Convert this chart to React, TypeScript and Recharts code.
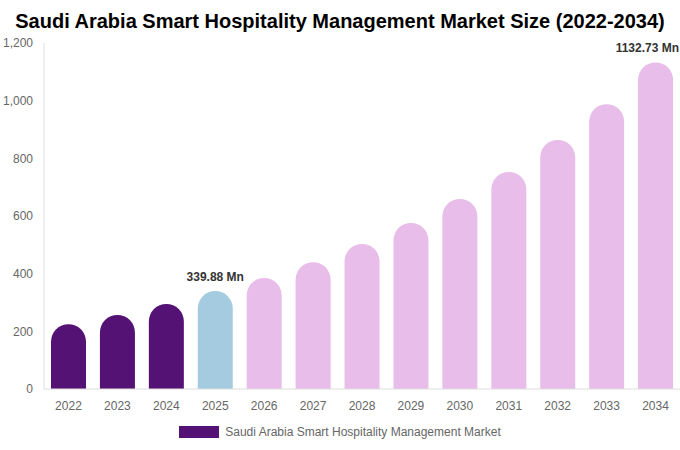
import React from "react";
import {
  BarChart,
  Bar,
  XAxis,
  YAxis,
  Cell,
  LabelList,
  Legend,
} from "recharts";

const years = [
  "2022", "2023", "2024", "2025", "2026", "2027", "2028",
  "2029", "2030", "2031", "2032", "2033", "2034",
];
const marketSize = [
  225, 257, 295, 339.88, 385, 440, 503, 576, 659, 753, 864, 988, 1132.73,
];
const labelledYears = ["2025", "2034"];
const yTicks = [0, 200, 400, 600, 800, 1000, 1200];

const SERIES_NAME = "Saudi Arabia Smart Hospitality Management Market";
const HISTORIC = "#541274";
const CURRENT = "#a4cbdf";
const FORECAST = "#e8bde9";
const CHART_W = 680;

const data = years.map((year, i) => ({ year, value: marketSize[i] }));

const barColor = (year: string) => {
  const y = Number(year);
  if (y < 2025) return HISTORIC;
  if (y === 2025) return CURRENT;
  return FORECAST;
};

// only some bars carry a value label; keep it on one line and inside the chart
const ValueLabel = (props: any) => {
  const { x, y, width, index, value } = props;
  if (!labelledYears.includes(years[index])) return null;
  const text = `${value} Mn`;
  const cx = Number(x) + Number(width) / 2;
  const approxW = text.length * 6.6;
  const overflow = cx + approxW / 2 > CHART_W - 1;
  return (
    <text
      x={overflow ? CHART_W - 1 : cx}
      y={Number(y) - 10}
      textAnchor={overflow ? "end" : "middle"}
      fill="#333"
      fontSize={12}
      fontWeight="bold"
    >
      {text}
    </text>
  );
};

const LegendContent = () => (
  <div
    style={{
      display: "flex",
      justifyContent: "center",
      alignItems: "center",
      fontFamily: "Liberation Sans, Arial, sans-serif",
      fontSize: 12,
      color: "#666",
    }}
  >
    <span
      style={{
        display: "inline-block",
        width: 40,
        height: 12,
        background: HISTORIC,
        marginRight: 6,
      }}
    />
    {SERIES_NAME}
  </div>
);

const App: React.FC = () => {
  return (
    <div
      style={{
        position: "absolute",
        top: 0,
        left: 0,
        width: CHART_W,
        height: 450,
        background: "#fff",
        fontFamily: "Liberation Sans, Arial, sans-serif",
      }}
    >
      <div
        style={{
          position: "absolute",
          top: 10,
          left: 0,
          width: CHART_W,
          textAlign: "center",
          fontSize: 20,
          fontWeight: "bold",
          color: "#000",
        }}
      >
        Saudi Arabia Smart Hospitality Management Market Size (2022-2034)
      </div>
      <BarChart
        width={CHART_W}
        height={450}
        data={data}
        margin={{ top: 43, right: 0, left: 0, bottom: 17 }}
        style={{ position: "absolute", top: 0, left: 0 }}
      >
        <XAxis
          dataKey="year"
          height={30}
          tickLine={false}
          axisLine={{ stroke: "#ddd" }}
          tick={{ fill: "#666", fontSize: 12 }}
          tickMargin={6}
        />
        <YAxis
          width={44}
          domain={[0, 1200]}
          ticks={yTicks}
          tickLine={false}
          axisLine={{ stroke: "#ddd" }}
          tick={{ fill: "#666", fontSize: 12 }}
          tickMargin={5}
          tickFormatter={(v) => v.toLocaleString("en-US")}
        />
        <Legend
          content={<LegendContent />}
          wrapperStyle={{ position: "absolute", top: 425, left: 0, width: CHART_W }}
        />
        <Bar
          dataKey="value"
          name={SERIES_NAME}
          barSize={35}
          radius={[17.5, 17.5, 0, 0]}
          isAnimationActive={false}
        >
          {data.map((d) => (
            <Cell key={d.year} fill={barColor(d.year)} />
          ))}
          <LabelList dataKey="value" content={<ValueLabel />} />
        </Bar>
      </BarChart>
    </div>
  );
};

export default App;
